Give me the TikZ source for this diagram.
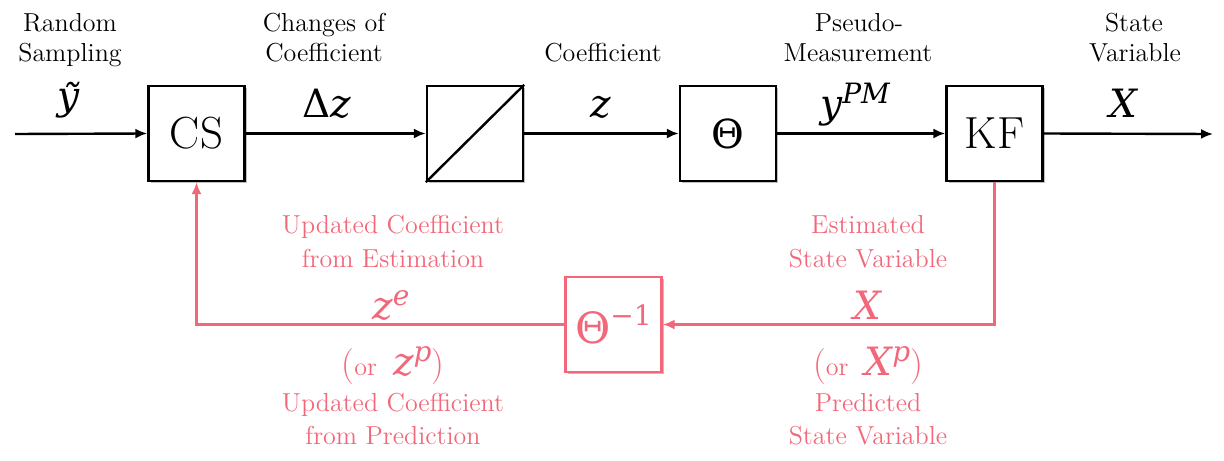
\documentclass[tikz,border=0pt]{standalone}
\usepackage{fontspec}
\newfontfamily\mf{DejaVu Serif}
\usetikzlibrary{arrows.meta,shadows}
\definecolor{fb}{RGB}{242,104,122}
\newcommand\mi[1]{{\mf\itshape #1}}
\newcommand\fs[1]{\fontsize{#1}{#1}\selectfont}
\newcommand\ytil{\ooalign{\mi{y}\cr\hidewidth\raisebox{-1.5pt}{\mf\itshape\char"02DC}\hidewidth\cr}}
\begin{document}
\begin{tikzpicture}[x=0.5pt,y=-0.5pt,
  blk/.style={draw=black, line width=1.2pt, minimum width=48pt, minimum height=47.5pt,
    fill=white, inner sep=0pt,
    drop shadow={shadow xshift=1.2pt,shadow yshift=-1.2pt,opacity=0.25,fill=black}},
  fbblk/.style={blk, draw=fb, text=fb},
  conn/.style={line width=1.2pt, -{Latex[length=6pt,width=5pt]}},
  fbconn/.style={conn, draw=fb},
  lbl/.style={font=\fs{13}, anchor=base, inner sep=0pt},
  fblbl/.style={lbl, text=fb},
  mth/.style={font=\fs{19.5}, anchor=base, inner sep=0pt},
  fbmth/.style={mth, text=fb}]
\path[use as bounding box, fill=white] (0,0) rectangle (1224,460);

% blocks
\node[blk, font=\fs{22.5}] (cs) at (196.5,133.5) {CS};
\node[blk] (sl) at (475,133.5) {};
\draw[line width=1.2pt] (sl.south west) -- (sl.north east);
\node[blk, font=\fs{20}] (th) at (728,133.5) {{\mf Θ}};
\node[blk, font=\fs{22.5}] (kf) at (994.5,133.5) {KF};
\node[fbblk, font=\fs{21.5}] (thi) at (613.5,324.5) {{\mf Θ}\raisebox{9pt}{\fs{14}\mf −1}};

% connectors
\coordinate (in) at (15,134);
\coordinate (out) at (1213,134);
\draw[conn] (in) -- (cs.west);
\draw[conn] (cs.east) -- (sl.west);
\draw[conn] (sl.east) -- (th.west);
\draw[conn] (th.east) -- (kf.west);
\draw[conn] (kf.east) -- (out);
\draw[fbconn] (kf.south) |- (thi.east);
\draw[fbconn] (thi.west) -| (cs.south);

% top labels
\node[lbl] (l1a) at (70,32) {Random};
\node[lbl] (l1b) at (70,62) {Sampling};
\node[mth] (m1) at (69,110) {\ytil};
\node[lbl] (l2a) at (324,32) {Changes of};
\node[lbl] (l2b) at (324,62) {Coefficient};
\node[mth] (m2) at (327,118) {{\mf Δ}\mi{z}};
\node[lbl] (l3b) at (603,62) {Coefficient};
\node[mth] (m3) at (601,118) {\mi{z}};
\node[lbl] (l4a) at (859,32) {Pseudo-};
\node[lbl] (l4b) at (858,62) {Measurement};
\node[mth] (m4) at (855,118) {\mi{y}\raisebox{7pt}{\fs{14}\mi{PM}}};
\node[lbl] (l5a) at (1134,32) {State};
\node[lbl] (l5b) at (1135,62) {Variable};
\node[mth] (m5) at (1123,118) {\mi{X}};

% feedback labels
\node[fblbl] (f1a) at (393,233) {Updated Coefficient};
\node[fblbl] (f1b) at (393,267) {from Estimation};
\node[fbmth] (f1m) at (391,319) {\mi{z}\raisebox{7pt}{\fs{14}\mi{e}}};
\node[fbmth] (f1p) at (393,375) {{\fs{18}(}{\fs{13}or\,} \mi{z}\raisebox{7pt}{\fs{14}\mi{p}}{\fs{18})}};
\node[fblbl] (f1c) at (393,411) {Updated Coefficient};
\node[fblbl] (f1d) at (393,444) {from Prediction};

\node[fblbl] (f2a) at (868,233) {Estimated};
\node[fblbl] (f2b) at (868,267) {State Variable};
\node[fbmth] (f2m) at (867,319) {\mi{X}};
\node[fbmth] (f2p) at (868,375) {{\fs{18}(}{\fs{13}or\,} \mi{X}\raisebox{7pt}{\fs{14}\mi{p}}{\fs{18})}};
\node[fblbl] (f2c) at (868,411) {Predicted};
\node[fblbl] (f2d) at (868,444) {State Variable};
\end{tikzpicture}
\end{document}
